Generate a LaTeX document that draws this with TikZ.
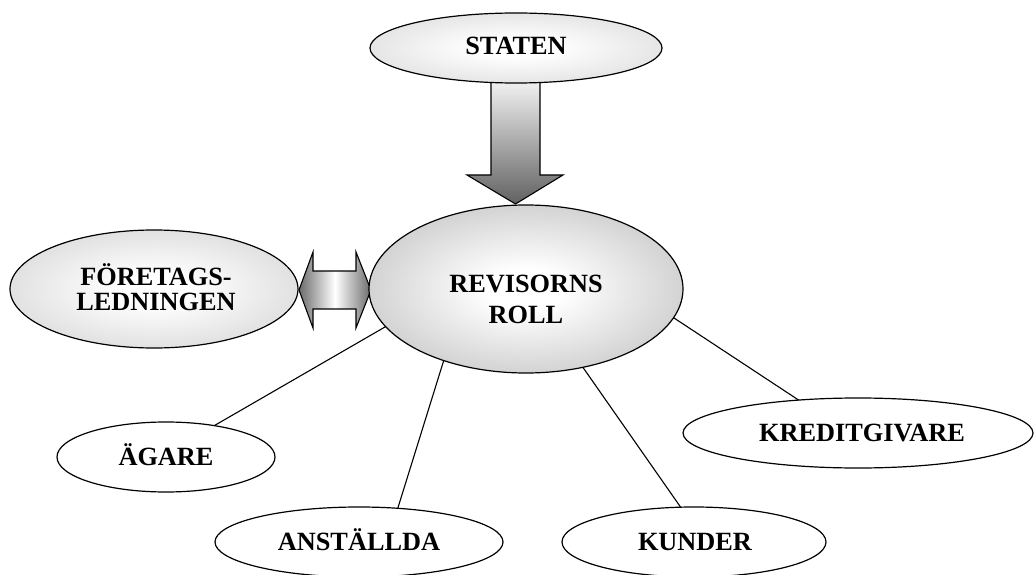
\documentclass[tikz,border=0pt]{standalone}
\usepackage{fontspec}
\setmainfont{Liberation Serif}
\usetikzlibrary{shapes.geometric}
\pgfdeclareradialshading{revshade}{\pgfpointorigin}{color(0bp)=(white); color(6bp)=(white); color(50bp)=(black!40); color(100bp)=(black!40)}
\pgfdeclareradialshading{statshade}{\pgfpointorigin}{color(0bp)=(white); color(6bp)=(white); color(50bp)=(black!23); color(100bp)=(black!23)}
\pgfdeclareradialshading{flshade}{\pgfpointorigin}{color(0bp)=(white); color(6bp)=(white); color(50bp)=(black!27); color(100bp)=(black!27)}
\begin{document}
\begin{tikzpicture}[x=1pt,y=-1pt,
  oval/.style={ellipse, draw, line width=1.2pt, inner sep=0pt, outer sep=0pt},
  plainoval/.style={oval, fill=white, minimum height=70},
  lbl/.style={font=\fontsize{26.3}{30}\selectfont\bfseries, anchor=base, inner sep=0pt},
  link/.style={line width=1.1pt},
  bigarrow/.style={draw, line width=1.1pt, line join=miter}]
\useasboundingbox (0,0) rectangle (1034,575);

% big arrow from STATEN down to REVISORNS ROLL
\path[bigarrow, top color=white, bottom color=black!62]
  (491,70) -- (540,70) -- (540,175) -- (563,175) -- (515.5,204) -- (467,175) -- (491,175) -- cycle;

% double arrow between FÖRETAGSLEDNINGEN and REVISORNS ROLL
\path[bigarrow, left color=black!58, right color=black!58, middle color=white]
  (299,290) -- (313,252) -- (313,271) -- (356,271) -- (356,252) -- (371,290)
  -- (356,328) -- (356,309) -- (313,309) -- (313,328) -- cycle;

% ellipses
\node[oval, minimum width=292, minimum height=70, shading=statshade] (staten) at (516,48) {};
\node[oval, minimum width=314, minimum height=168, shading=revshade] (rev) at (526,289) {};
\node[oval, minimum width=288, minimum height=118, shading=flshade] (fl) at (154,289) {};
\node[plainoval, minimum width=218] (agare) at (166,457) {};
\node[plainoval, minimum width=288] (anst) at (359,542) {};
\node[plainoval, minimum width=264] (kunder) at (694,542) {};
\node[plainoval, minimum width=350] (kredit) at (858,433) {};

% connectors
\draw[link] (rev.195.3) -- (agare.33.7);
\draw[link] (rev.221.3) -- (anst.41.8);
\draw[link] (rev.-54.7) -- (kunder.111.8);
\draw[link] (rev.-11.9) -- (kredit.151.6);

% labels
\node[lbl] (tstaten) at (516,55) {STATEN};
\node[lbl] (trev1) at (526,292.7) {REVISORNS};
\node[lbl] (trev2) at (526,323.3) {ROLL};
\node[lbl] (tfl1) at (156,285) {FÖRETAGS-};
\node[lbl] (tfl2) at (156,310.7) {LEDNINGEN};
\node[lbl] (tagare) at (166,465) {ÄGARE};
\node[lbl] (tanst) at (359,550) {ANSTÄLLDA};
\node[lbl] (tkunder) at (695,550) {KUNDER};
\node[lbl] (tkredit) at (862,441) {KREDITGIVARE};
\end{tikzpicture}
\end{document}
